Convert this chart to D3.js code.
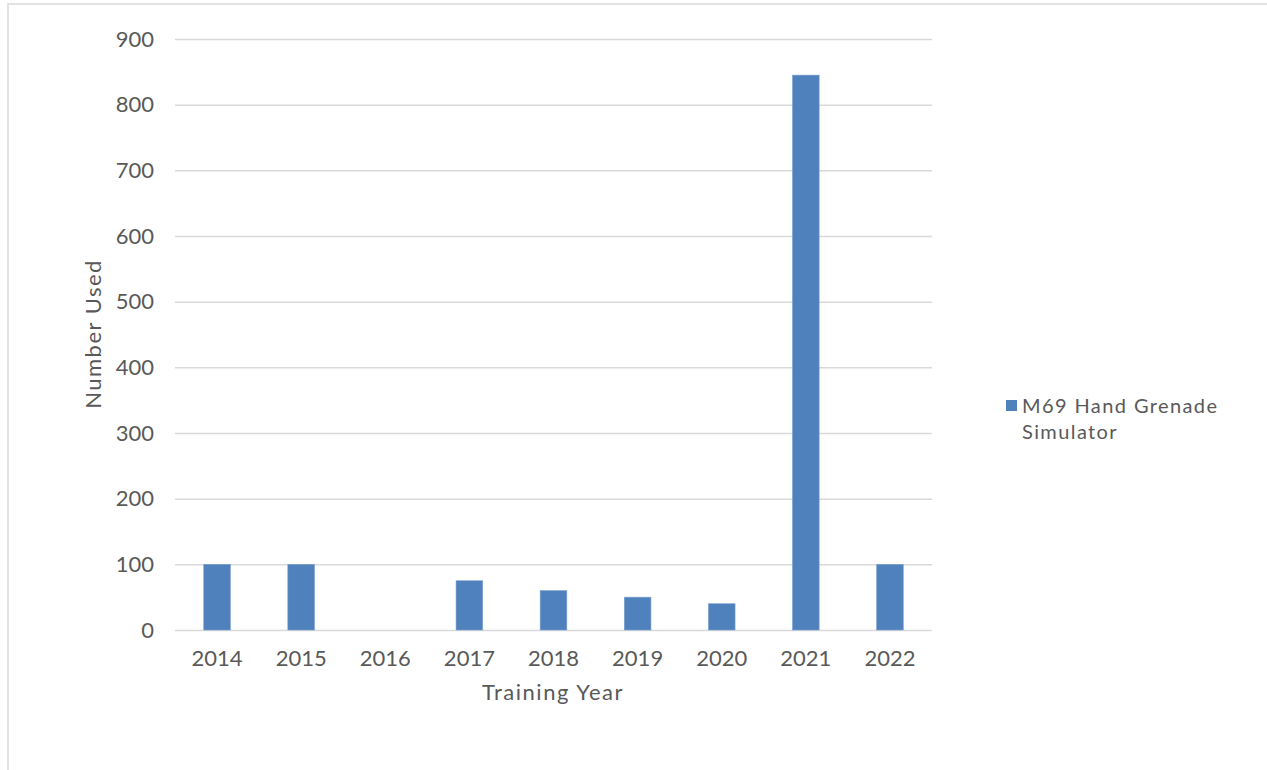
<!DOCTYPE html>
<html>
<head>
<meta charset="utf-8">
<script src="https://cdn.jsdelivr.net/npm/d3@7"></script>
<style>
  body { margin: 0; background: #fff; }
  text { font-family: "Lato", "Open Sans", sans-serif; fill: #595959; }
</style>
</head>
<body>
<svg width="1267" height="770"></svg>
<script>
// data
const years = ["2014", "2015", "2016", "2017", "2018", "2019", "2020", "2021", "2022"];
const used = [100, 100, 0, 75, 60, 50, 40, 845, 100];
const yTicks = [0, 100, 200, 300, 400, 500, 600, 700, 800, 900];
const seriesName = ["M69 Hand Grenade", "Simulator"];

const svg = d3.select("svg");
const plotLeft = 175, plotRight = 932, plotTop = 39, plotBottom = 630;

// chart area border
svg.append("rect")
  .attr("x", 8).attr("y", 4)
  .attr("width", 1300).attr("height", 800)
  .attr("fill", "none")
  .attr("stroke", "#d9d9d9")
  .attr("stroke-width", 1.5);

const x = d3.scaleBand()
  .domain(years)
  .range([plotLeft, plotRight])
  .paddingInner(0.683)
  .paddingOuter(0.683 / 2);

const y = d3.scaleLinear()
  .domain([0, 900])
  .range([plotBottom, plotTop]);

// gridlines + y labels
const yAxis = d3.axisLeft(y)
  .tickValues(yTicks)
  .tickSize(-(plotRight - plotLeft))
  .tickPadding(21);

svg.append("g")
  .attr("transform", `translate(${plotLeft},0)`)
  .call(yAxis)
  .call(g => g.select(".domain").remove())
  .call(g => g.selectAll("line").attr("stroke", "#d9d9d9").attr("stroke-width", 1.5))
  .call(g => g.selectAll("text").attr("font-size", 22).style("fill", "#595959"));

// bars
svg.append("g")
  .selectAll("rect")
  .data(used)
  .join("rect")
  .attr("x", (d, i) => x(years[i]))
  .attr("y", d => y(d))
  .attr("width", x.bandwidth())
  .attr("height", d => y(0) - y(d))
  .attr("fill", "#4f81bd")
  .attr("stroke", "#7da0d0")
  .attr("stroke-width", 0.6);

// x axis labels
const xAxis = d3.axisBottom(x).tickSize(0).tickPadding(20);
svg.append("g")
  .attr("transform", `translate(0,${plotBottom})`)
  .call(xAxis)
  .call(g => g.select(".domain").remove())
  .call(g => g.selectAll("text").attr("font-size", 22).style("fill", "#595959"));

// axis titles
svg.append("text")
  .attr("x", 553)
  .attr("y", 700)
  .attr("text-anchor", "middle")
  .attr("font-size", 22)
  .attr("letter-spacing", 1.5)
  .text("Training Year");

svg.append("text")
  .attr("transform", "translate(101,334) rotate(-90)")
  .attr("text-anchor", "middle")
  .attr("font-size", 22)
  .attr("letter-spacing", 1.5)
  .text("Number Used");

// legend
const lg = svg.append("g").attr("transform", "translate(1006,400)");
lg.append("rect")
  .attr("width", 11).attr("height", 11)
  .attr("fill", "#4f81bd");
lg.selectAll("text")
  .data(seriesName)
  .join("text")
  .attr("x", 16)
  .attr("y", (d, i) => 13 + i * 26)
  .attr("font-size", 20)
  .attr("letter-spacing", 1.4)
  .text(d => d);
</script>
</body>
</html>
